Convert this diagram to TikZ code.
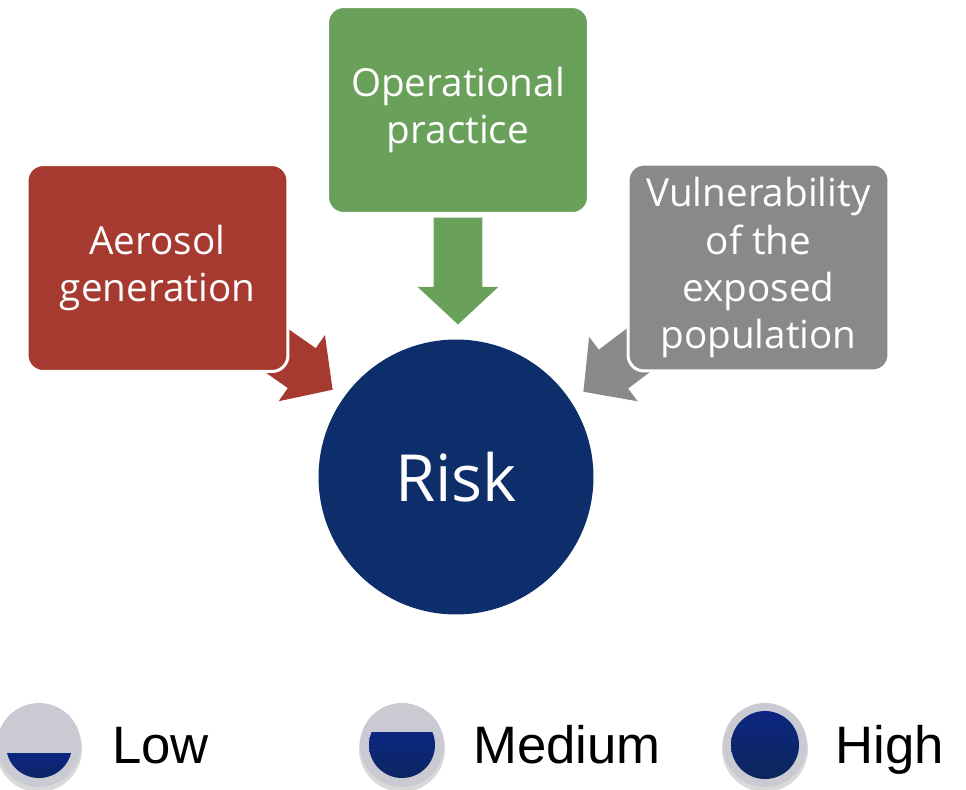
\documentclass[tikz,border=0pt]{standalone}
\usepackage{fontspec}
\setmainfont{Open Sans}
\newfontfamily\legendfont{Liberation Sans}
\usetikzlibrary{shapes.arrows}

\definecolor{aeroRed}{HTML}{A63A30}
\definecolor{operGreen}{HTML}{69A05A}
\definecolor{vulnGray}{HTML}{898989}
\definecolor{riskBlue}{HTML}{0E2D6B}
\definecolor{ringGray}{HTML}{C9CAD2}

\begin{document}
\begin{tikzpicture}[x=0.02cm, y=-0.02cm,
    factor/.style={rectangle, rounded corners=0.32cm, draw=white, line width=0.06cm,
        minimum width=5.22cm, minimum height=4.14cm, align=center, text=white,
        font=\fontsize{22}{26.8}\selectfont},
    push/.style={single arrow, anchor=tip, inner sep=0pt, inner ysep=0.48cm,
        single arrow head extend=0.32cm, single arrow tip angle=94,
        minimum height=2.14cm},
    legendtext/.style={anchor=base west, inner sep=0pt,
        font=\legendfont\fontsize{30}{36}\selectfont}]
    \useasboundingbox (0,0) rectangle (966,789);

    % Block arrows (drawn first, boxes sit on top)
    \node[push, fill=aeroRed, rotate=-35] (aeroArrow) at (333,390) {};
    \node[push, fill=operGreen, rotate=-90] (operArrow) at (458,325) {};
    \node[push, fill=vulnGray, rotate=-143] (vulnArrow) at (583,392) {};

    % Factor boxes
    \node[factor, fill=aeroRed] (aero) at (157.5,268) {Aerosol\\generation};
    \node[factor, fill=operGreen] (oper) at (458,110) {Operational\\practice};
    \node[factor, fill=vulnGray] (vuln) at (758.5,267.5)
        {Vulnerability\\of the\\exposed\\population};

    % Risk circle
    \node[circle, fill=riskBlue, minimum size=5.5cm, inner sep=0pt, text=white,
        font=\fontsize{37}{44}\selectfont] (risk) at (456,477) {Risk};

    % Legend: low
    \fill[black, opacity=0.15] (39,749) circle (0.86cm);
    \node[circle, fill=ringGray, minimum size=1.68cm, inner sep=0pt] (lowIcon) at (39,745) {};
    \begin{scope}
        \clip (lowIcon.center) circle (0.66cm);
        \shade[top color=riskBlue!85!blue, bottom color=riskBlue!85!black]
            (0,753) rectangle (80,790);
    \end{scope}
    \node[legendtext] (lowText) at (112,763) {Low};

    % Legend: medium
    \fill[black, opacity=0.15] (402,749) circle (0.86cm);
    \node[circle, fill=ringGray, minimum size=1.68cm, inner sep=0pt] (medIcon) at (402,745) {};
    \begin{scope}
        \clip (medIcon.center) circle (0.66cm);
        \shade[top color=riskBlue!85!blue, bottom color=riskBlue!85!black]
            (360,732) rectangle (445,790);
    \end{scope}
    \node[legendtext] (medText) at (473,763) {Medium};

    % Legend: high
    \fill[black, opacity=0.15] (765,749) circle (0.86cm);
    \node[circle, fill=ringGray, minimum size=1.68cm, inner sep=0pt] (highIcon) at (765,745) {};
    \shade[top color=riskBlue!85!blue, bottom color=riskBlue!85!black]
        (highIcon.center) circle (0.68cm);
    \node[legendtext] (highText) at (835,763) {High};
\end{tikzpicture}
\end{document}
